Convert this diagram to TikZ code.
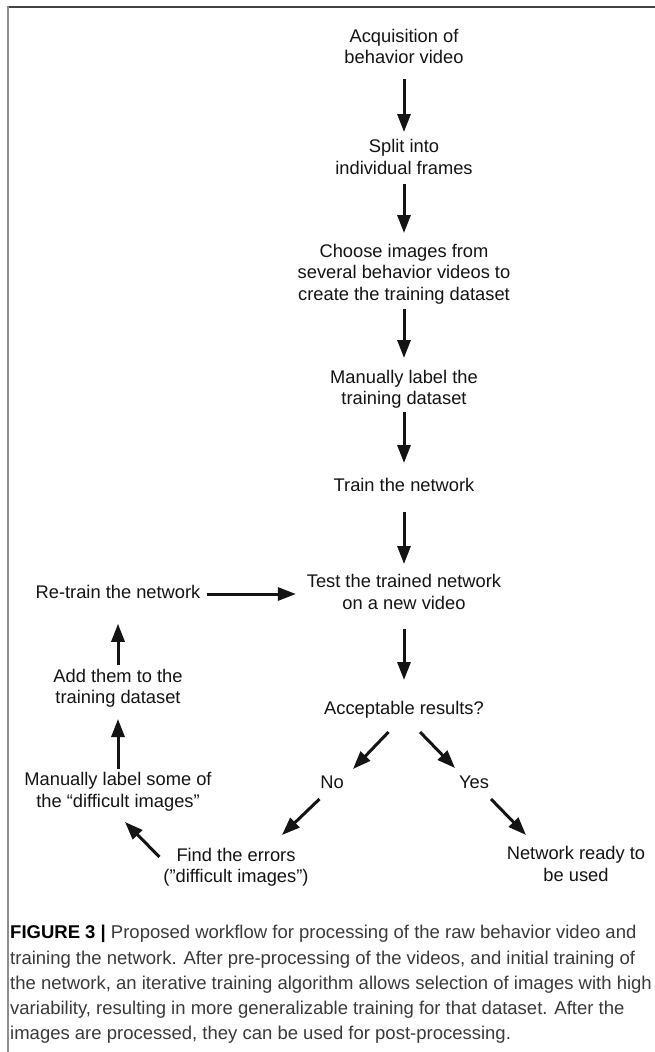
\documentclass[tikz,border=0pt]{standalone}
\usepackage{fontspec}
\setmainfont{Liberation Sans}
\usetikzlibrary{arrows.meta}
\definecolor{ink}{HTML}{141414}
\definecolor{capink}{HTML}{3A3A3A}
\definecolor{topline}{HTML}{444444}
\definecolor{leftline}{HTML}{8C8C8C}
\begin{document}
\begin{tikzpicture}[x=1pt,y=-1pt,
  lbl/.style={font=\fontsize{18.3}{21.5}\selectfont, text=ink, align=center, inner sep=0pt, outer sep=0pt},
  arr/.style={draw=ink, line width=3pt, -{Triangle[length=18pt,width=13pt]}}]
\useasboundingbox (0,0) rectangle (655,1052);
\fill[white] (0,0) rectangle (655,1052);
\draw[topline, line width=2pt] (6.5,6.5) -- (655,6.5);
\draw[leftline, line width=2pt] (7.5,5.5) -- (7.5,1052);

\node[lbl] (acq) at (404,48.5) {\strut Acquisition of\\\strut behavior video};
\node[lbl] (split) at (404,159) {\strut Split into\\\strut individual frames};
\node[lbl] (choose) at (404,274.5) {\strut Choose images from\\\strut several behavior videos to\\\strut create the training dataset};
\node[lbl] (label) at (404,389.5) {\strut Manually label the\\\strut training dataset};
\node[lbl] (train) at (404,487) {\strut Train the network};
\node[lbl] (test) at (404,594) {\strut Test the trained network\\\strut on a new video};
\node[lbl] (acc) at (404,710) {\strut Acceptable results?};
\node[lbl] (retrain) at (118,594) {\strut Re-train the network};
\node[lbl] (add) at (118,688.5) {\strut Add them to the\\\strut training dataset};
\node[lbl] (mls) at (118,792) {\strut Manually label some of\\\strut the “difficult images”};
\node[lbl] (no) at (332,784) {\strut No};
\node[lbl] (yes) at (474,784) {\strut Yes};
\node[lbl] (find) at (236,867.5) {\strut Find the errors\\\strut ("difficult images”)};
\node[lbl] (net) at (576,866) {\strut Network ready to\\\strut be used};

\draw[arr, shorten <=9pt, shorten >=5.5pt] (acq.south) -- (split.north);
\draw[arr, shorten <=3.5pt, shorten >=9.25pt] (split.south) -- (choose.north);
\draw[arr, shorten <=2.25pt, shorten >=10pt] (choose.south) -- (label.north);
\draw[arr, shorten <=1pt, shorten >=13.25pt] (label.south) -- (train.north);
\draw[arr, shorten <=14.25pt, shorten >=8.5pt] (train.south) -- (test.north);
\draw[arr, shorten <=13.5pt, shorten >=19.25pt] (test.south) -- (acc.north);

\draw[arr, shorten <=7pt, shorten >=11pt] (retrain.east) -- (test.west);
\draw[arr, shorten <=2pt, shorten >=19pt] (add.north) -- (retrain.south);
\draw[arr, shorten <=1.5pt, shorten >=9pt] (mls.north) -- (add.south);

\draw[arr] ([shift={(-15.5,11.25)}]acc.south) -- ([shift={(21,-4.25)}]no.north);
\draw[arr] ([shift={(16,11.25)}]acc.south) -- ([shift={(-19,-5.25)}]yes.north);
\draw[arr] ([shift={(-12.5,4.25)}]no.south) -- ([shift={(46,-11)}]find.north);
\draw[arr] ([shift={(17,4.25)}]yes.south) -- ([shift={(-50,-9.5)}]net.north);
\draw[arr] ([shift={(-4,11)}]find.north west) -- ([shift={(7,8.5)}]mls.south);

\node[anchor=north west, inner sep=0pt, align=left, text=capink,
      font=\fontsize{18.5}{25.2}\selectfont] (cap) at (10,921)
  {\strut{\bfseries\color{black}FIGURE 3 |} Proposed workflow for processing of the raw behavior video and\\
   \strut training the network. After pre-processing of the videos, and initial training of\\
   \strut the network, an iterative training algorithm allows selection of images with high\\
   \strut variability, resulting in more generalizable training for that dataset. After the\\
   \strut images are processed, they can be used for post-processing.};
\end{tikzpicture}
\end{document}
